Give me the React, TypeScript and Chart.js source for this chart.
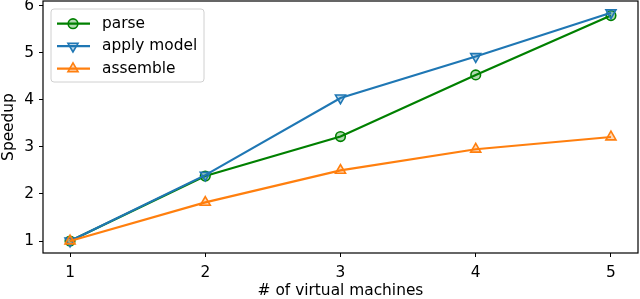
import React, { useEffect, useRef } from 'react';
import { Chart, registerables } from 'chart.js';

Chart.register(...registerables);

const machines = [1, 2, 3, 4, 5];
const parseSpeedup = [1.0, 2.38, 3.22, 4.53, 5.79];
const applyModelSpeedup = [1.0, 2.4, 4.04, 4.92, 5.85];
const assembleSpeedup = [1.0, 1.82, 2.5, 2.95, 3.21];
const xTicks = [1, 2, 3, 4, 5];
const yTicks = [1, 2, 3, 4, 5, 6];
const seriesLabels = ['parse', 'apply model', 'assemble'];
const xTitle = '# of virtual machines';
const yTitle = 'Speedup';

const GREEN = '#008000';
const BLUE = '#1f77b4';
const ORANGE = '#ff7f0e';
const FONT = "'DejaVu Sans', sans-serif";
const FS = 15.4;

function hexA(hex: string, a: number) {
  const n = parseInt(hex.slice(1), 16);
  return `rgba(${(n >> 16) & 255},${(n >> 8) & 255},${n & 255},${a})`;
}

function drawMarker(ctx: CanvasRenderingContext2D, style: string, rot: number, x: number, y: number, r: number, color: string) {
  ctx.save();
  ctx.beginPath();
  if (style === 'circle') {
    ctx.arc(x, y, r, 0, Math.PI * 2);
  } else {
    let rad = (rot * Math.PI) / 180;
    ctx.moveTo(x + Math.sin(rad) * r, y - Math.cos(rad) * r);
    rad += (2 * Math.PI) / 3;
    ctx.lineTo(x + Math.sin(rad) * r, y - Math.cos(rad) * r);
    rad += (2 * Math.PI) / 3;
    ctx.lineTo(x + Math.sin(rad) * r, y - Math.cos(rad) * r);
    ctx.closePath();
  }
  ctx.fillStyle = hexA(color, 0.3);
  ctx.fill();
  ctx.strokeStyle = color;
  ctx.lineWidth = 1.6;
  ctx.stroke();
  ctx.restore();
}

const framePlugin = {
  id: 'frame',
  afterDatasetsDraw(chart: any) {
    const { ctx, chartArea: a } = chart;
    ctx.save();
    ctx.strokeStyle = '#000';
    ctx.lineWidth = 1.2;
    ctx.strokeRect(a.left, a.top, a.right - a.left, a.bottom - a.top);
    ctx.restore();
  },
};

const legendPlugin = {
  id: 'boxLegend',
  afterDraw(chart: any) {
    const { ctx, chartArea: a } = chart;
    const x0 = a.left + 8;
    const y0 = a.top + 8;
    const w = 153;
    const h = 73;
    ctx.save();
    ctx.beginPath();
    const r = 3;
    ctx.moveTo(x0 + r, y0);
    ctx.arcTo(x0 + w, y0, x0 + w, y0 + h, r);
    ctx.arcTo(x0 + w, y0 + h, x0, y0 + h, r);
    ctx.arcTo(x0, y0 + h, x0, y0, r);
    ctx.arcTo(x0, y0, x0 + w, y0, r);
    ctx.closePath();
    ctx.fillStyle = 'rgba(255,255,255,0.8)';
    ctx.fill();
    ctx.strokeStyle = '#d0d0d0';
    ctx.lineWidth = 1;
    ctx.stroke();
    chart.data.datasets.forEach((ds: any, i: number) => {
      const cy = y0 + 14.7 + i * 22.5;
      ctx.beginPath();
      ctx.moveTo(x0 + 6, cy);
      ctx.lineTo(x0 + 39, cy);
      ctx.strokeStyle = ds.borderColor;
      ctx.lineWidth = 2.2;
      ctx.stroke();
      drawMarker(ctx, ds.pointStyle, ds.pointRotation || 0, x0 + 22, cy, ds.pointRadius, ds.borderColor);
      ctx.fillStyle = '#000';
      ctx.font = `${FS}px ${FONT}`;
      ctx.textBaseline = 'middle';
      ctx.textAlign = 'left';
      ctx.fillText(ds.label, x0 + 51, cy);
    });
    ctx.restore();
  },
};

export default function App() {
  const ref = useRef<HTMLCanvasElement>(null);
  useEffect(() => {
    if (!ref.current) return;
    const mk = (label: string, data: number[], color: string, style: string, rot: number, radius: number, order: number) => ({
      label,
      data: machines.map((m, i) => ({ x: m, y: data[i] })),
      borderColor: color,
      backgroundColor: color,
      borderWidth: 2.2,
      pointStyle: style,
      pointRotation: rot,
      pointRadius: radius,
      pointBorderWidth: 1.6,
      pointBackgroundColor: hexA(color, 0.3),
      pointBorderColor: color,
      order,
      tension: 0,
    });
    const tickFont = { family: FONT, size: FS };
    const titleFont = { family: FONT, size: FS, lineHeight: 1.0 };
    const chart = new Chart(ref.current, {
      type: 'line',
      data: {
        datasets: [
          mk(seriesLabels[0], parseSpeedup, GREEN, 'circle', 0, 4.8, 3),
          mk(seriesLabels[1], applyModelSpeedup, BLUE, 'triangle', 180, 5.8, 2),
          mk(seriesLabels[2], assembleSpeedup, ORANGE, 'triangle', 0, 5.8, 1),
        ] as any,
      },
      options: {
        responsive: false,
        animation: false,
        layout: { autoPadding: false, padding: { top: 1, right: 2, left: 0, bottom: 0 } },
        plugins: { legend: { display: false }, tooltip: { enabled: false } },
        scales: {
          x: {
            type: 'linear',
            min: 0.8,
            max: 5.2,
            afterBuildTicks: (s: any) => { s.ticks = xTicks.map((v) => ({ value: v })); },
            afterFit: (s: any) => { s.height = 46; s.paddingLeft = 0; s.paddingRight = 0; },
            ticks: { font: tickFont, color: '#000', padding: 7, maxRotation: 0, callback: (v: any) => String(v) },
            grid: { display: true, drawOnChartArea: false, drawTicks: true, tickLength: 4, color: '#000', lineWidth: 1 },
            border: { display: false },
            title: { display: true, text: xTitle, font: titleFont, color: '#000', padding: { top: 0, bottom: 0 } },
          },
          y: {
            type: 'linear',
            min: 0.745,
            max: 6.1,
            afterBuildTicks: (s: any) => { s.ticks = yTicks.map((v) => ({ value: v })); },
            afterFit: (s: any) => { s.width = 43; s.paddingTop = 0; s.paddingBottom = 0; },
            ticks: { font: tickFont, color: '#000', padding: 5, callback: (v: any) => String(v) },
            grid: { display: true, drawOnChartArea: false, drawTicks: true, tickLength: 4, color: '#000', lineWidth: 1 },
            border: { display: false },
            title: { display: true, text: yTitle, font: titleFont, color: '#000', padding: { top: 1, bottom: 0 } },
          },
        },
      } as any,
      plugins: [framePlugin, legendPlugin],
    });
    return () => chart.destroy();
  }, []);
  return (
    <div style={{ position: 'absolute', left: 0, top: 0, width: 640, height: 299, background: '#fff' }}>
      <canvas ref={ref} width={640} height={299} />
    </div>
  );
}
